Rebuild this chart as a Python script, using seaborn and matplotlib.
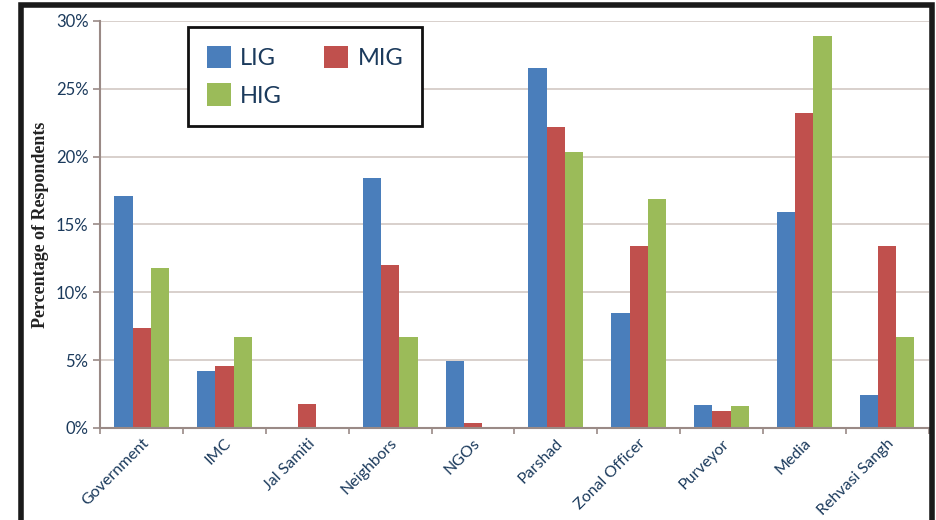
import pandas as pd
import seaborn as sns
import numpy as np
import matplotlib.pyplot as plt
from matplotlib.patches import Rectangle
from matplotlib.ticker import FixedLocator

# Data (percent of respondents)
sources = ['Government', 'IMC', 'Jal Samiti', 'Neighbors', 'NGOs',
           'Parshad', 'Zonal Officer', 'Purveyor', 'Media', 'Rehvasi Sangh']
groups = ['LIG', 'MIG', 'HIG']
lig = [17.1, 4.2, 0.0, 18.4, 4.9, 26.5, 8.5, 1.7, 15.9, 2.4]
mig = [7.4, 4.6, 1.8, 12.0, 0.4, 22.2, 13.4, 1.25, 23.2, 13.4]
hig = [11.8, 6.7, 0.0, 6.7, 0.0, 20.3, 16.9, 1.6, 28.9, 6.7]
yticks = [0, 5, 10, 15, 20, 25, 30]

df = pd.DataFrame({'Source': sources * 3,
                   'Group': np.repeat(groups, len(sources)),
                   'Value': lig + mig + hig})

colors = ['#4A7EBB', '#C0504D', '#9BBB59']
text_col = '#1B3A5C'

sns.set_style('white')
plt.rcParams['font.family'] = ['Lato', 'DejaVu Sans']

fig = plt.figure(figsize=(9.37, 5.2), dpi=100)
ax = fig.add_axes([0.107, 0.177, 0.884, 0.783])

sns.barplot(data=df, x='Source', y='Value', hue='Group', palette=colors,
            width=0.66, saturation=1, linewidth=0, ax=ax, legend=True)

ax.set_ylim(0, 30)
ax.set_xlim(-0.5, len(sources) - 0.5)
ax.set_yticks(yticks)
ax.set_yticklabels([f'{t}%' for t in yticks], color=text_col, fontsize=12)
ax.yaxis.grid(True, color='#d2c8c4', linewidth=1.2)
ax.set_axisbelow(True)
ax.set_xlabel('')
ax.set_ylabel('Percentage of Respondents', family=['Liberation Serif'],
              fontweight='bold', fontsize=13, color='#222222', labelpad=5)

# Excel-like ticks between categories
ax.set_xticks(range(len(sources)))
ax.set_xticklabels(sources, rotation=45, ha='right', rotation_mode='anchor',
                   color=text_col, fontsize=11.5)
ax.xaxis.set_minor_locator(FixedLocator(np.arange(-0.5, len(sources), 1)))
ax.tick_params(axis='x', which='major', length=0, pad=6)
ax.tick_params(axis='x', which='minor', length=4, color='#9a8a86', width=1.2,
               direction='out', bottom=True)
ax.tick_params(axis='y', length=5, color='#9a8a86', width=1.2,
               direction='out', left=True)

for s in ['top', 'right']:
    ax.spines[s].set_visible(False)
for s in ['left', 'bottom']:
    ax.spines[s].set_color('#9a8a86')
    ax.spines[s].set_linewidth(1.5)

# legend rows: LIG MIG / HIG
handles, labels = ax.get_legend_handles_labels()
order = [0, 2, 1]
leg = ax.legend([handles[i] for i in order], [labels[i] for i in order],
                ncol=2, loc='upper left', bbox_to_anchor=(0.106, 0.985),
                borderaxespad=0, frameon=True, fancybox=False, fontsize=17,
                handlelength=1.0, handleheight=1.1, columnspacing=1.8,
                borderpad=0.8, labelspacing=0.6, handletextpad=0.4)
leg.get_frame().set_edgecolor('#111111')
leg.get_frame().set_linewidth(2)
leg.get_frame().set_alpha(1)
for t in leg.get_texts():
    t.set_color(text_col)

# outer black frame around the chart
fig.patches.append(Rectangle((0.022, -0.05), 0.973, 1.04,
                             transform=fig.transFigure, fill=False,
                             edgecolor='#1a1a1a', linewidth=4))

plt.savefig('out.png', dpi=100)
